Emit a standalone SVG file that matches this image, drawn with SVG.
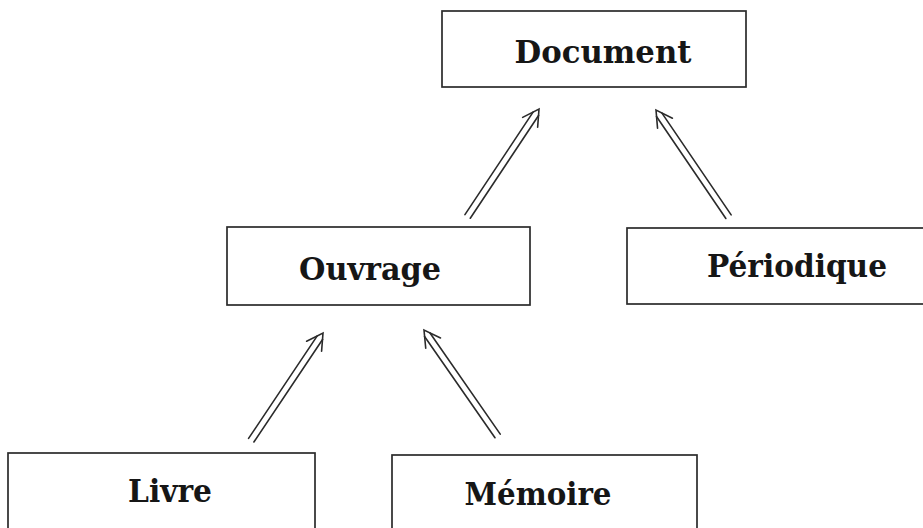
<svg xmlns="http://www.w3.org/2000/svg" xmlns:xlink="http://www.w3.org/1999/xlink" width="923" height="528" viewBox="0 0 923 528">
  <style>
    .box { fill: #ffffff; stroke: #2b2b2b; stroke-width: 1.7; }
    .label { font-family: "DejaVu Serif", "Liberation Serif", serif; font-weight: bold; font-size: 32px; fill: #161616; text-anchor: middle; }
    .shaft { stroke: #2b2b2b; stroke-width: 1.6; fill: none; stroke-linecap: round; }
  </style>
  <defs>
    <!-- double-line inheritance arrow: tip at origin, pointing along +x -->
    <g id="dbl-arrow">
      <line class="shaft" x1="-129" y1="-3.2" x2="-5.6" y2="-3.2"/>
      <line class="shaft" x1="-129" y1="3.2" x2="-5.6" y2="3.2"/>
      <polyline class="shaft" points="-16,-9 0,0 -16,9"/>
    </g>
  </defs>

  <rect x="0" y="0" width="923" height="528" fill="#ffffff"/>

  <g id="connectors">
    <use xlink:href="#dbl-arrow" transform="translate(539,109) rotate(-56.4)"/>
    <use xlink:href="#dbl-arrow" transform="translate(656,110) rotate(-124.2)"/>
    <use xlink:href="#dbl-arrow" transform="translate(323,333) rotate(-56.2)"/>
    <use xlink:href="#dbl-arrow" transform="translate(424,330) rotate(-124.8)"/>
  </g>

  <g id="document">
    <rect class="box" x="442" y="11" width="304" height="76"/>
    <text class="label" x="603" y="63" textLength="177" lengthAdjust="spacingAndGlyphs">Document</text>
  </g>

  <g id="ouvrage">
    <rect class="box" x="227" y="227" width="303" height="78"/>
    <text class="label" x="370" y="280" textLength="142" lengthAdjust="spacingAndGlyphs">Ouvrage</text>
  </g>

  <g id="periodique">
    <rect class="box" x="627" y="228" width="310" height="76"/>
    <text class="label" x="797" y="277" textLength="180" lengthAdjust="spacingAndGlyphs">Périodique</text>
  </g>

  <g id="livre">
    <rect class="box" x="8" y="453" width="307" height="100"/>
    <text class="label" x="170" y="502" textLength="84" lengthAdjust="spacingAndGlyphs">Livre</text>
  </g>

  <g id="memoire">
    <rect class="box" x="392" y="455" width="305" height="100"/>
    <text class="label" x="538" y="505" textLength="147" lengthAdjust="spacingAndGlyphs">Mémoire</text>
  </g>
</svg>
